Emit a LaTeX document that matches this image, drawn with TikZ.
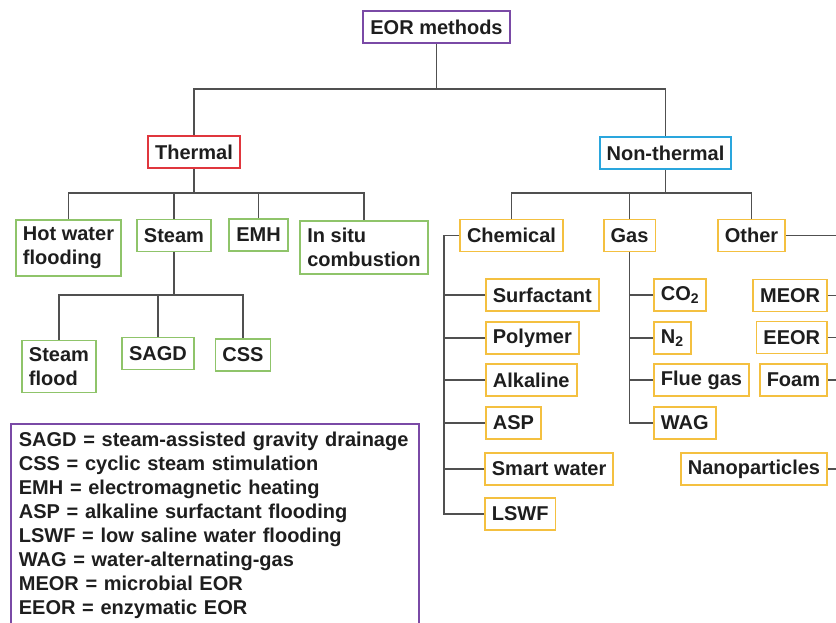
\documentclass[tikz,border=0pt]{standalone}
\usepackage{fontspec}
\setmainfont{Liberation Sans}
\definecolor{eorpurple}{HTML}{7A4AA6}
\definecolor{thermred}{HTML}{E0363D}
\definecolor{ntblue}{HTML}{2AA6DD}
\definecolor{boxgreen}{HTML}{8FC46A}
\definecolor{boxyellow}{HTML}{F4C040}
\definecolor{linegray}{HTML}{505050}
\definecolor{txt}{HTML}{1E1E1E}

\begin{document}
\begin{tikzpicture}[
    x=1pt, y=-1pt,
    font=\fontsize{20}{24}\selectfont\bfseries,
    % --- estilos de caja ---
    box/.style    = {rectangle, draw, line width=1.8pt, fill=white, text=txt,
                     inner sep=7pt, minimum height=32pt},
    top/.style    = {box, draw=eorpurple},
    therm/.style  = {box, draw=thermred},
    ntbox/.style  = {box, draw=ntblue},
    grn/.style    = {box, draw=boxgreen, align=left},
    ylw/.style    = {box, draw=boxyellow},
    conn/.style   = {draw=linegray, line width=1.6pt},
    legend/.style = {draw=eorpurple, line width=1.8pt, anchor=north west, text=txt,
                     align=left, text width=392pt, inner sep=8pt}
]
\useasboundingbox (0,0) rectangle (836,623);
\clip (0,0) rectangle (836,623);

% ===================== NIVELES SUPERIORES =====================
\node[top]   (eor)     at (436.5,27)  {EOR methods};
\node[therm] (thermal) at (194,152)   {Thermal};
\node[ntbox] (nonth)   at (665.5,153) {Non-thermal};

% ===================== RAMA TERMICA =====================
\node[grn] (hot)    at (68.5,248)  {Hot water\\flooding};
\node[grn] (steam)  at (174,235.5) {Steam};
\node[grn] (emh)    at (258.5,235) {EMH};
\node[grn] (insitu) at (364,247.5) {In situ\\combustion};

\node[grn] (sflood) at (59,366.5)  {Steam\\flood};
\node[grn] (sagd)   at (158,353.5) {SAGD};
\node[grn] (css)    at (243,355)   {CSS};

% ===================== RAMA NO TERMICA =====================
\node[ylw] (chem)  at (511.5,235.5) {Chemical};
\node[ylw] (gas)   at (629.5,235.5) {Gas};
\node[ylw] (other) at (751.5,235.5) {Other};

% quimicos
\node[ylw, anchor=west] (surf)  at (485,295) {Surfactant};
\node[ylw, anchor=west] (poly)  at (485,338) {Polymer};
\node[ylw, anchor=west] (alka)  at (485,380) {Alkaline};
\node[ylw, anchor=west] (asp)   at (485,423) {ASP};
\node[ylw, anchor=west] (smart) at (484,469) {Smart water};
\node[ylw, anchor=west] (lswf)  at (484,514) {LSWF};

% gases
\node[ylw, anchor=west] (co2)  at (653,295) {CO\textsubscript{2}};
\node[ylw, anchor=west] (n2)   at (653,338) {N\textsubscript{2}};
\node[ylw, anchor=west] (flue) at (653,380) {Flue gas};
\node[ylw, anchor=west] (wag)  at (653,423) {WAG};

% otros
\node[ylw, anchor=east] (meor) at (828,295.5) {MEOR};
\node[ylw, anchor=east] (eeor) at (828,337.5) {EEOR};
\node[ylw, anchor=east] (foam) at (828,380)   {Foam};
\node[ylw, anchor=east] (nano) at (828,469)   {Nanoparticles};

% ===================== CONECTORES =====================
\coordinate (topbus) at (436.5,89);
\coordinate (thbus)  at (194,193);
\coordinate (stbus)  at (174,295);
\coordinate (ntbus)  at (665.5,193);
\coordinate (chemx)  at (444,237);
\coordinate (othend) at (836,237);

\draw[conn] (eor) -- (topbus);
\draw[conn] (thermal.north) |- (topbus) -| (nonth.north);

\draw[conn] (thermal) -- (thbus);
\draw[conn] (hot.north) |- (thbus) -| (insitu.north);
\draw[conn] (steam.north) -- (steam.north |- thbus);
\draw[conn] (emh.north) -- (emh.north |- thbus);

\draw[conn] (steam) -- (stbus);
\draw[conn] (sflood.north) |- (stbus) -| (css.north);
\draw[conn] (sagd.north) -- (sagd.north |- stbus);

\draw[conn] (nonth) -- (ntbus);
\draw[conn] (chem.north) |- (ntbus) -| (other.north);
\draw[conn] (gas.north) -- (gas.north |- ntbus);

\draw[conn] (chem.west) -| (chemx |- lswf.west) -- (lswf.west);
\foreach \n in {surf, poly, alka, asp, smart}
    \draw[conn] (\n.west) -- (\n.west -| chemx);

\draw[conn] (gas.south) |- (wag.west);
\foreach \n in {co2, n2, flue}
    \draw[conn] (\n.west) -- (\n.west -| gas.south);

\draw[conn] (other.east) -- (other.east -| othend);
\foreach \n in {meor, eeor, foam, nano}
    \draw[conn] (\n.east) -- (\n.east -| othend);

% ===================== LEYENDA =====================
\node[legend] (abbr) at (10,423) {SAGD = steam-assisted gravity drainage\\
    CSS = cyclic steam stimulation\\
    EMH = electromagnetic heating\\
    ASP = alkaline surfactant flooding\\
    LSWF = low saline water flooding\\
    WAG = water-alternating-gas\\
    MEOR = microbial EOR\\
    EEOR = enzymatic EOR};

\end{tikzpicture}
\end{document}
